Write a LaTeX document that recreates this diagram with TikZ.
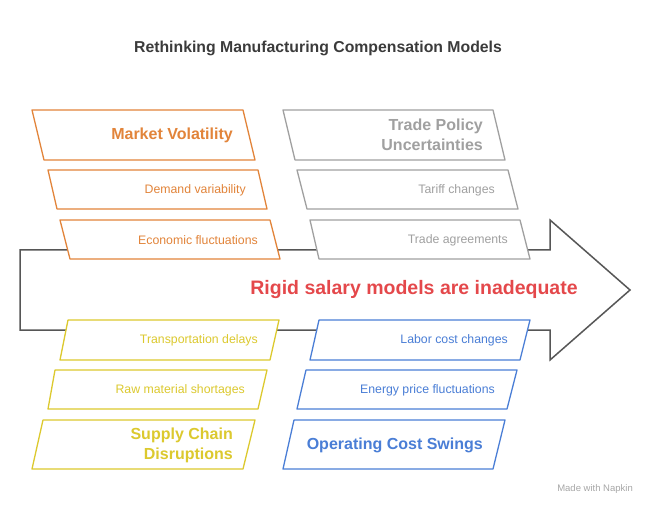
\documentclass[tikz,border=0pt]{standalone}
\usepackage{fontspec}
\setmainfont{Liberation Sans}
\usepackage{tikz}

\definecolor{mvorange}{HTML}{E2843A}
\definecolor{tpgray}{HTML}{A0A0A0}
\definecolor{scyellow}{HTML}{DCC92E}
\definecolor{ocblue}{HTML}{4A7ED6}
\definecolor{coreRed}{HTML}{E4484B}
\definecolor{titleGray}{HTML}{3B3B3B}
\definecolor{spineGray}{HTML}{565656}

\tikzset{
  leaf/.style={fill=white, line width=1.3pt, line join=round},
  cause/.style={anchor=east, inner sep=0pt, font=\fontsize{12.3}{14}\selectfont},
  head/.style={anchor=east, align=right, inner sep=0pt, font=\bfseries\fontsize{16}{20}\selectfont},
}

\begin{document}
\begin{tikzpicture}[x=1pt, y=-1pt]
    \useasboundingbox (0,0) rectangle (650,510);

    % タイトル
    \node[font=\bfseries\fontsize{15.8}{18}\selectfont, text=titleGray] (title) at (318,48) {Rethinking Manufacturing Compensation Models};

    % 背骨の矢印
    \draw[spineGray, line width=1.5pt, line join=miter]
        (20,250) -- (550,250) -- (550,220) -- (630,290) -- (550,360) -- (550,330) -- (20,330) -- cycle;
    \node[font=\bfseries\fontsize{19.5}{22}\selectfont, text=coreRed] (core) at (414,290) {Rigid salary models are inadequate};

    % Market Volatility
    \filldraw[leaf, draw=mvorange] (32,110) -- (243,110) -- (255,160) -- (44,160) -- cycle;
    \node[head, text=mvorange] (mv) at (233,135) {Market Volatility};
    \filldraw[leaf, draw=mvorange] (48,170) -- (258,170) -- (267,209) -- (57,209) -- cycle;
    \node[cause, text=mvorange] (mv1) at (246,190) {Demand variability};
    \filldraw[leaf, draw=mvorange] (60,220) -- (270,220) -- (280,259) -- (70,259) -- cycle;
    \node[cause, text=mvorange] (mv2) at (258,240) {Economic fluctuations};

    % Trade Policy Uncertainties
    \filldraw[leaf, draw=tpgray] (283,110) -- (493,110) -- (505,160) -- (295,160) -- cycle;
    \node[head, text=tpgray] (tp) at (483,135) {Trade Policy\\Uncertainties};
    \filldraw[leaf, draw=tpgray] (297,170) -- (508,170) -- (518,209) -- (307,209) -- cycle;
    \node[cause, text=tpgray] (tp1) at (495,190) {Tariff changes};
    \filldraw[leaf, draw=tpgray] (310,220) -- (520,220) -- (530,259) -- (319,259) -- cycle;
    \node[cause, text=tpgray] (tp2) at (508,240) {Trade agreements};

    % Supply Chain Disruptions
    \filldraw[leaf, draw=scyellow] (68,320) -- (279,320) -- (270,360) -- (60,360) -- cycle;
    \node[cause, text=scyellow] (sc1) at (258,340) {Transportation delays};
    \filldraw[leaf, draw=scyellow] (55,370) -- (267,370) -- (258,409) -- (48,409) -- cycle;
    \node[cause, text=scyellow] (sc2) at (245,390) {Raw material shortages};
    \filldraw[leaf, draw=scyellow] (43,420) -- (255,420) -- (243,469) -- (32,469) -- cycle;
    \node[head, text=scyellow] (sc) at (233,445) {Supply Chain\\Disruptions};

    % Operating Cost Swings
    \filldraw[leaf, draw=ocblue] (319,320) -- (530,320) -- (520,360) -- (310,360) -- cycle;
    \node[cause, text=ocblue] (oc1) at (508,340) {Labor cost changes};
    \filldraw[leaf, draw=ocblue] (306,370) -- (517,370) -- (507,409) -- (297,409) -- cycle;
    \node[cause, text=ocblue] (oc2) at (495,390) {Energy price fluctuations};
    \filldraw[leaf, draw=ocblue] (294,420) -- (505,420) -- (493,469) -- (283,469) -- cycle;
    \node[head, text=ocblue] (oc) at (483,445) {Operating Cost Swings};

    % 透かし
    \node[anchor=east, inner sep=0pt, font=\fontsize{9.5}{11}\selectfont, text=black!35] (mark) at (633,489) {Made with Napkin};
\end{tikzpicture}
\end{document}
